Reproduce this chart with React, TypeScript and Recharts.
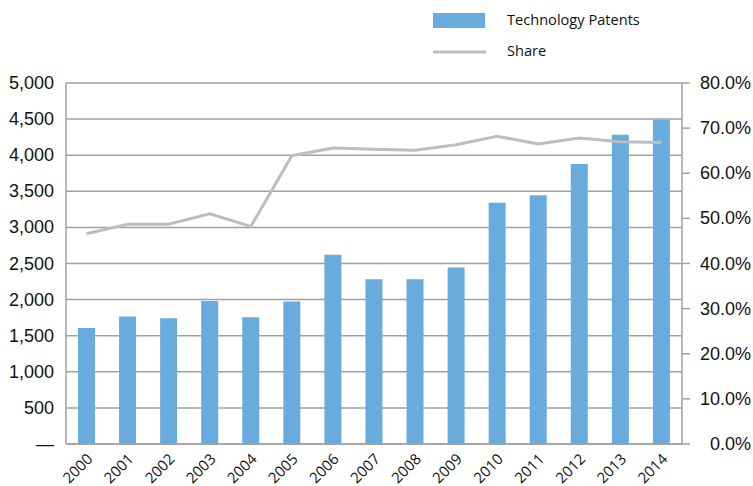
import React from 'react';
import { ComposedChart, Bar, Line, XAxis, YAxis, CartesianGrid } from 'recharts';

const years = ['2000','2001','2002','2003','2004','2005','2006','2007','2008','2009','2010','2011','2012','2013','2014'];
const patents = [1605, 1765, 1742, 1982, 1756, 1972, 2620, 2283, 2283, 2444, 3340, 3447, 3877, 4283, 4491];
const share = [0.466, 0.487, 0.487, 0.510, 0.482, 0.639, 0.656, 0.653, 0.651, 0.663, 0.682, 0.665, 0.678, 0.670, 0.668];
const leftTicks = [0, 500, 1000, 1500, 2000, 2500, 3000, 3500, 4000, 4500, 5000];
const rightTicks = [0, 0.1, 0.2, 0.3, 0.4, 0.5, 0.6, 0.7, 0.8];
const seriesNames = ['Technology Patents', 'Share'];

const data = years.map((y, i) => ({ year: y, patents: patents[i], share: share[i] }));

const FONT = '"Liberation Sans", Arial, sans-serif';
const LFONT = '"Open Sans", sans-serif';
const BAR = '#6aabde';
const LINE = '#bdbdbd';
const GRID = '#a0a0a0';

const XTick = (props: any) => {
  const { x, y, payload } = props;
  const ax = x + 7;
  const ay = y + 8;
  return (
    <text x={ax} y={ay} textAnchor="end" fontFamily={LFONT} fontSize={15} fill="#111"
      transform={`rotate(-45, ${ax}, ${ay})`}>{payload.value}</text>
  );
};

const LeftTick = (props: any) => {
  const { x, y, payload } = props;
  const v = payload.value;
  const label = v === 0 ? '\u2014' : v.toLocaleString('en-US');
  return (
    <text x={x} y={y} dy={6} textAnchor="end" fontFamily={FONT} fontSize={18} fill="#111">{label}</text>
  );
};

const RightTick = (props: any) => {
  const { x, y, payload } = props;
  return (
    <text x={x + 59} y={y} dy={6} textAnchor="end" fontFamily={FONT} fontSize={18} fill="#111">{(payload.value * 100).toFixed(1) + '%'}</text>
  );
};

const LegendBox = () => (
  <svg width={260} height={62} style={{ position: 'absolute', left: 433, top: 0 }}>
    <rect x={0} y={13} width={52} height={15} fill={BAR} />
    <text x={74} y={25} fontFamily={LFONT} fontSize={14.6} fill="#111">{seriesNames[0]}</text>
    <line x1={0} x2={53} y1={52} y2={52} stroke={LINE} strokeWidth={3} />
    <text x={74} y={56} fontFamily={LFONT} fontSize={14.6} fill="#111">{seriesNames[1]}</text>
  </svg>
);

export default function App() {
  return (
    <div style={{ position: 'absolute', left: 0, top: 0, width: 753, height: 486, background: '#fff', overflow: 'hidden' }}>
      <ComposedChart width={753} height={486} data={data}
        margin={{ top: 83, right: 0, bottom: 0, left: 10 }} barCategoryGap="40%">
        <CartesianGrid yAxisId="left" vertical={false} stroke={GRID} strokeWidth={1.5} />
        <XAxis dataKey="year" height={42} interval={0} tick={<XTick />} tickLine={false}
          axisLine={{ stroke: GRID, strokeWidth: 1.5 }} />
        <YAxis yAxisId="left" orientation="left" width={56} domain={[0, 5000]} ticks={leftTicks}
          tick={<LeftTick />} tickLine={false} tickMargin={6} axisLine={{ stroke: GRID, strokeWidth: 1.5 }} />
        <YAxis yAxisId="right" orientation="right" width={71} domain={[0, 0.8]} ticks={rightTicks}
          tick={<RightTick />} tickSize={8} tickMargin={2}
          tickLine={{ stroke: GRID, strokeWidth: 1.5 }} axisLine={{ stroke: GRID, strokeWidth: 1.5 }} />
        <Bar yAxisId="left" dataKey="patents" name={seriesNames[0]} fill={BAR} barSize={17} isAnimationActive={false} />
        <Line yAxisId="right" dataKey="share" name={seriesNames[1]} stroke={LINE} strokeWidth={3} dot={false}
          type="linear" isAnimationActive={false} />
      </ComposedChart>
      <LegendBox />
    </div>
  );
}
